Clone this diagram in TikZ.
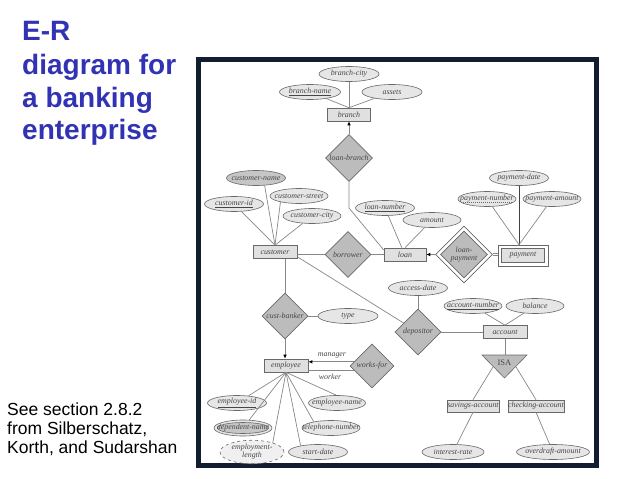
\documentclass[tikz,border=0pt]{standalone}
\usepackage{fontspec}
\usetikzlibrary{shapes.geometric,arrows.meta,calc}
\newfontfamily\arialfont{Liberation Sans}
\newfontfamily\erserif{Liberation Serif}
\definecolor{titleblue}{RGB}{50,50,180}
\definecolor{framecol}{RGB}{18,30,48}
\definecolor{linegray}{RGB}{135,135,135}
\definecolor{bordergray}{RGB}{105,105,105}
\definecolor{entfill}{RGB}{224,224,224}
\definecolor{attfill}{RGB}{230,230,230}
\definecolor{relfill}{RGB}{188,188,188}
\definecolor{darkfill}{RGB}{198,198,198}
\definecolor{textgray}{RGB}{70,70,70}
\newcommand\erfont{\erserif\itshape\fontsize{7.9}{8.3}\selectfont}
\newcommand\zb[1]{\makebox[0pt]{#1}}
\begin{document}
\begin{tikzpicture}[x=1pt,y=-1pt,
  conn/.style={draw=linegray, line width=0.7pt},
  entity/.style={rectangle, draw=bordergray, fill=entfill, line width=0.6pt, minimum width=#1, minimum height=13pt, inner sep=0pt, font=\erfont, text=textgray},
  entity/.default=44,
  attr/.style={ellipse, draw=bordergray, fill=attfill, line width=0.6pt, minimum width=#1, minimum height=15pt, inner sep=0pt, font=\erfont, text=textgray},
  attr/.default=59,
  rel/.style={diamond, draw=bordergray, fill=relfill, line width=0.6pt, minimum width=#1, minimum height=#1, inner sep=0pt, font=\erfont, text=textgray},
  rel/.default=46,
  arrowto/.style={-{Latex[length=4pt,width=3.6pt,color=black]}},
  titletext/.style={anchor=base west, inner sep=0pt, text=titleblue, font=\arialfont\bfseries\fontsize{28}{33}\selectfont},
  foottext/.style={anchor=base west, inner sep=0pt, text=black, font=\arialfont\fontsize{17.5}{19}\selectfont},
  rolelabel/.style={inner sep=0pt, font=\erfont, text=textgray}
]
\useasboundingbox (0,0) rectangle (638,479);
% left texts
\node[titletext] (t1) at (22,40.7) {E-R};
\node[titletext] (t2) at (22,74) {diagram for};
\node[titletext] (t3) at (22,107.3) {a banking};
\node[titletext] (t4) at (22,139.3) {enterprise};
\node[foottext] (f1) at (7,415) {See section 2.8.2};
\node[foottext] (f2) at (7,434.3) {from Silberschatz,};
\node[foottext] (f3) at (7,453.3) {Korth, and Sudarshan};
% frame
\draw[framecol, line width=5pt] (198.5,59.5) rectangle (596,465.5);
% nodes
\node[attr=60] (bc) at (349,74) {\zb{branch-city}};
\node[attr=61] (bn) at (310,92) {\zb{\underline{branch-name}}};
\node[attr=60] (as) at (392,92) {\zb{assets}};
\node[entity=43] (br) at (349,114.5) {\zb{branch}};
\node[rel=47] (lb) at (349,158) {\zb{loan-branch}};
\node[attr, fill=darkfill] (cn) at (256,178) {\zb{customer-name}};
\node[attr=58] (cs) at (299,196) {\zb{customer-street}};
\node[attr] (ci) at (234,204) {\zb{\underline{customer-id}}};
\node[attr=58] (cc) at (312,216) {\zb{customer-city}};
\node[entity] (cu) at (275,252) {\zb{customer}};
\node[rel] (bo) at (348,254.5) {\zb{borrower}};
\node[entity=42] (lo) at (405,254.5) {\zb{loan}};
\node[attr] (ln) at (385,208) {\zb{\underline{loan-number}}};
\node[attr=58] (am) at (432,220) {\zb{amount}};
\node[diamond, draw=bordergray, fill=white, line width=0.6pt, minimum width=57pt, minimum height=57pt, inner sep=0pt] (lpo) at (464,254.5) {};
\node[rel=47] (lp) at (464,254.5) {\zb{\begin{tabular}{@{}c@{}}loan-\\payment\end{tabular}}};
\node[rectangle, draw=bordergray, fill=white, line width=0.6pt, minimum width=50pt, minimum height=21pt, inner sep=0pt] (pao) at (523,255.5) {};
\node[entity=43, minimum height=14pt] (pa) at (523,255.5) {\zb{payment}};
\node[attr] (pd) at (519,178) {\zb{payment-date}};
\node[attr=58] (pn) at (487,199) {\zb{payment-number}};
\node[attr=58] (pam) at (552,199) {\zb{payment-amount}};
\node[rel=46] (cb) at (285,316) {\zb{cust-banker}};
\node[attr=60] (ty) at (348,316) {\zb{type}};
\node[entity] (em) at (286,365.5) {\zb{employee}};
\node[rel=44] (wf) at (372,366) {\zb{works-for}};
\node[rel] (de) at (418,332) {\zb{depositor}};
\node[attr] (ad) at (418,288) {\zb{access-date}};
\node[entity] (ac) at (505,332) {\zb{account}};
\node[attr=58] (an) at (473,306) {\zb{\underline{account-number}}};
\node[attr=58] (ba) at (535,306) {\zb{balance}};
\coordinate (isaL) at (482,355);
\coordinate (isaR) at (527,355);
\coordinate (isaB) at (504.5,378);
\filldraw[draw=bordergray, fill=relfill, line width=0.6pt] (isaL) -- (isaR) -- (isaB) -- cycle;
\node[inner sep=0pt, font=\erserif\fontsize{8.5}{9}\selectfont, text=textgray] (isa) at (504.5,362.5) {ISA};
\node[entity=52, minimum height=12pt] (sa) at (473,406) {\zb{savings-account}};
\node[entity=56, minimum height=12pt] (ca) at (536,406) {\zb{checking-account}};
\node[attr=62] (ir) at (453,452) {\zb{interest-rate}};
\node[attr=73] (oa) at (553,452) {\zb{overdraft-amount}};
\node[attr] (ei) at (237,403) {\zb{\underline{employee-id}}};
\node[attr=57] (en) at (337,403) {\zb{employee-name}};
\node[attr=58, minimum height=16pt] (dno) at (243,428) {};
\node[attr=51, minimum height=11pt, fill=darkfill] (dn) at (243,428) {\zb{dependent-name}};
\node[attr=58] (tn) at (331,428) {\zb{telephone-number}};
\node[attr=64, minimum height=17pt, dashed, fill=attfill!60!white] (el) at (252,452) {\zb{\begin{tabular}{@{}c@{}}employment-\\length\end{tabular}}};
\node[attr] (sd) at (318,452) {\zb{start-date}};
\node[rolelabel] (mg) at (332,355) {manager};
\node[rolelabel] (wk) at (330,377) {worker};
% connectors
\draw[conn] (bc) -- (br.north);
\draw[conn] (bn) -- (br.north);
\draw[conn] (as) -- (br.north);
\draw[conn, arrowto] (lb.north) -- (br.south);
\coordinate (lbb) at (349,208);
\draw[conn] (lb.south) -- (lbb) -- (lo.168);
\draw[conn] (cn.-41) -- (cu.north);
\draw[conn] (cs.-162) -- (cu.north);
\draw[conn] (ci) -- (cu.north);
\draw[conn] (cc) -- (cu.north);
\draw[conn] (bo.west) -- (bo.west -| cu.east);
\draw[conn] (bo.east) -- (lo.west);
\draw[conn] (ln) -- (lo.115);
\draw[conn] (am) -- (lo.north);
\draw[conn, arrowto] (lpo.west) -- (lo.east);
\draw[draw=linegray, line width=0.5pt, double=white, double distance=1.6pt] (lpo.east) -- (lpo.east -| pao.west);
\coordinate (pajoin) at (pd.south |- pao.north);
\draw[line width=1pt, draw=black!75] (pd.south) -- (pajoin);
\draw[conn] (pn) -- (pajoin);
\draw[conn] (pam) -- (pajoin);
\draw[bordergray, dash pattern=on 1.2pt off 0.8pt, line width=0.4pt] ([xshift=-26pt,yshift=-3pt]pn.center) -- ([xshift=26pt,yshift=-3pt]pn.center);
\draw[conn] (cb.north) -- (cb.north |- cu.south);
\draw[conn] (cb.east) -- (ty);
\draw[conn, arrowto] (cb.south) -- (cb.south |- em.north);
\draw[conn, arrowto] (wf.167) -- (em.east |- wf.167);
\draw[conn] (wf.193) -- (em.east |- wf.193);
\draw[conn] (cu.-12) -- (de);
\draw[conn] (ad) -- (de.north);
\draw[conn] (de.east) -- (ac.west);
\draw[conn] (an) -- (ac.north);
\draw[conn] (ba) -- (ac.north);
\draw[conn] (ac.south) -- (ac.south |- isaL);
\coordinate (isaLm) at ($(isaL)!0.5!(isaB)$);
\coordinate (isaRm) at ($(isaR)!0.5!(isaB)$);
\draw[conn] (isaLm) -- (sa.north);
\draw[conn] (isaRm) -- (ca.north);
\draw[conn] (sa.south) -- (ir);
\draw[conn] (ca.south) -- (oa);
\draw[conn] (em.south) -- (ei);
\draw[conn] (em.south) -- (en.95);
\draw[conn] (em.south) -- (dno);
\draw[conn] (em.south) -- (tn.160);
\draw[conn] (em.south) -- (el.24);
\draw[conn] (em.south) -- (sd.160);
\end{tikzpicture}
\end{document}
